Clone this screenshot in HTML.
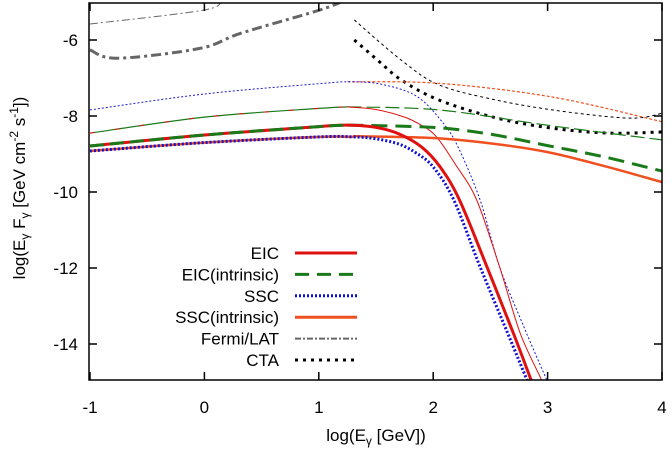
<!DOCTYPE html>
<html><head><meta charset="utf-8"><style>
body{margin:0;background:#fff}
svg{display:block;font-family:"Liberation Sans",sans-serif}
</style></head><body>
<svg id="chart" width="672" height="450" viewBox="0 0 672 450">
<g id="marks"></g>
<rect x="89" y="3" width="573" height="377" fill="none" stroke="#000" stroke-width="1.5"/>
<g id="axes"></g>
<text x="376" y="441" text-anchor="middle" font-size="17">log(E<tspan font-size="12" dy="4">γ</tspan><tspan dy="-4"> [GeV])</tspan></text>
<text transform="translate(25,188) rotate(-90)" text-anchor="middle" font-size="17">log(E<tspan font-size="12" dy="4">γ</tspan><tspan dy="-4"> F</tspan><tspan font-size="12" dy="4">γ</tspan><tspan dy="-4"> [GeV cm</tspan><tspan font-size="12" dy="-7">-2</tspan><tspan dy="7"> s</tspan><tspan font-size="12" dy="-7">-1</tspan><tspan dy="7">])</tspan></text>
<g id="legend"></g>
</svg>
<script>
const xTicks=[-1,0,1,2,3,4];
const yTicks=[-6,-8,-10,-12,-14];
const eicX=[-1,0,1,1.25,1.5,1.7,1.9,2.06,2.23,2.47,2.7,2.85,2.9];
const eicY=[-8.79,-8.5,-8.28,-8.24,-8.3,-8.47,-8.82,-9.34,-10.21,-11.97,-13.71,-14.9,-15.3];
const eicIntX=[1.25,2,2.5,3,3.5,4];
const eicIntY=[-8.24,-8.3,-8.48,-8.78,-9.08,-9.45];
const sscX=[-1,0,1,1.3,1.5,1.7,1.85,2.0,2.18,2.41,2.65,2.82,2.87];
const sscY=[-8.92,-8.7,-8.55,-8.55,-8.6,-8.74,-8.97,-9.34,-10.21,-11.97,-13.71,-14.95,-15.35];
const sscIntX=[1.3,2,2.5,3,3.5,4];
const sscIntY=[-8.53,-8.58,-8.72,-8.95,-9.32,-9.74];
const eicThinX=[-1,0,1,1.25];
const eicThinY=[-8.45,-8.03,-7.8,-7.76];
const eicThinDropX=[1.25,1.5,1.75,1.9,2.03,2.2,2.38,2.58,2.76,2.94,3.0];
const eicThinDropY=[-7.76,-7.83,-8.03,-8.25,-8.55,-9.3,-10.21,-11.97,-13.71,-14.9,-15.3];
const eicThinIntX=[1.25,2.05,3.04,4];
const eicThinIntY=[-7.76,-7.84,-8.26,-8.63];
const sscThinX=[-1,0,1,1.25,1.5,1.75,1.9,2.05,2.2,2.41,2.58,2.8,3.0];
const sscThinY=[-7.84,-7.42,-7.15,-7.1,-7.14,-7.33,-7.58,-8.05,-8.71,-10.21,-11.97,-13.6,-15.0];
const sscThinIntX=[1.25,2.05,3.04,4];
const sscThinIntY=[-7.1,-7.14,-7.5,-8.15];
const fermiX=[-1,-0.76,-0.04,0.32,1.01,1.23];
const fermiY=[-6.26,-6.48,-6.22,-5.82,-5.21,-4.95];
const fermiThinX=[-1,0,0.14];
const fermiThinY=[-5.58,-5.21,-4.95];
const ctaX=[1.31,1.53,1.72,2.05,2.55,3.04,3.54,4];
const ctaY=[-6.0,-6.57,-7.05,-7.58,-8.05,-8.32,-8.45,-8.42];
const ctaThinX=[1.31,1.72,2.05,2.55,3.04,3.54,3.8,4];
const ctaThinY=[-5.47,-6.53,-7.18,-7.58,-7.84,-8.02,-8.05,-7.93];
const legendLabels=["EIC","EIC(intrinsic)","SSC","SSC(intrinsic)","Fermi/LAT","CTA"];

const NS="http://www.w3.org/2000/svg";
const X=v=>90+114.4*(v+1);
const Y=v=>40+(-6-v)*38;
function pathD(xs,ys){
  const p=xs.map((x,i)=>[X(x),Y(ys[i])]);
  let d="M"+p[0][0].toFixed(1)+","+p[0][1].toFixed(1);
  for(let i=0;i<p.length-1;i++){
    const p0=p[i-1]||p[i],p1=p[i],p2=p[i+1],p3=p[i+2]||p[i+1];
    const c1=[p1[0]+(p2[0]-p0[0])/6,p1[1]+(p2[1]-p0[1])/6];
    const c2=[p2[0]-(p3[0]-p1[0])/6,p2[1]-(p3[1]-p1[1])/6];
    d+="C"+c1[0].toFixed(1)+","+c1[1].toFixed(1)+" "+c2[0].toFixed(1)+","+c2[1].toFixed(1)+" "+p2[0].toFixed(1)+","+p2[1].toFixed(1);
  }
  return d;
}
const marks=document.getElementById("marks");
const clip=document.createElementNS(NS,"clipPath");clip.id="pc";
const cr=document.createElementNS(NS,"rect");
cr.setAttribute("x",89);cr.setAttribute("y",3);cr.setAttribute("width",573);cr.setAttribute("height",377);
clip.appendChild(cr);marks.appendChild(clip);
marks.setAttribute("clip-path","url(#pc)");
function line(xs,ys,color,w,dash,name){
  const el=document.createElementNS(NS,"path");
  el.setAttribute("d",pathD(xs,ys));
  el.setAttribute("fill","none");el.setAttribute("stroke",color);el.setAttribute("stroke-width",w);
  if(dash)el.setAttribute("stroke-dasharray",dash);
  
  
  marks.appendChild(el);
}
line(fermiThinX,fermiThinY,"#666",1,"8,3,2,3","fermi-lat-thin-line");
line(fermiX,fermiY,"#666",3,"10,4,3,4","fermi-lat-line");
line(ctaThinX,ctaThinY,"#000",1,"3,3","cta-thin-line");
line(ctaX,ctaY,"#000",3,"3,5","cta-line");
line(sscThinIntX,sscThinIntY,"#f05020",1.2,"3,2","ssc-intrinsic-thin-line");
line(sscThinX,sscThinY,"#1a1ad0",1,"2,2","ssc-thin-line");
line(eicThinIntX,eicThinIntY,"#1a7a1a",1.2,"14,5","eic-intrinsic-thin-line");
line(eicThinX,eicThinY,"#1a7a1a",1.2,null,"eic-thin-green-line");
line(eicThinX,eicThinY,"#e01010",1,"5,20","eic-thin-left-line");
line(eicThinDropX,eicThinDropY,"#e01010",1,null,"eic-thin-line");
line(sscIntX,sscIntY,"#f05020",2.5,null,"ssc-intrinsic-line");
line(sscX.slice(0,4),sscY.slice(0,4),"#f05020",2.5,null,"ssc-intrinsic-left-line");
line(sscX,sscY,"#1010d0",3,"2,2","ssc-line");
line(eicIntX,eicIntY,"#1a7a1a",3,"16,8","eic-intrinsic-line");
line(eicX,eicY,"#e01010",3,null,"eic-line");
line(eicX.slice(0,4),eicY.slice(0,4),"#1a7a1a",3,"14,6","eic-intrinsic-left-line");

const axes=document.getElementById("axes");
function mk(tag,attrs,parent){const e=document.createElementNS(NS,tag);for(const k in attrs)e.setAttribute(k,attrs[k]);parent.appendChild(e);return e;}
xTicks.forEach(v=>{
  const t=mk("path",{d:`M${X(v)},380v-8M${X(v)},3v8`,stroke:"#000","stroke-width":1.5},axes);
  
  
  const l=mk("text",{x:X(v),y:413,"text-anchor":"middle","font-size":17},axes);
  l.textContent=v;
  
  
});
yTicks.forEach(v=>{
  const t=mk("path",{d:`M89,${Y(v)}h8M662,${Y(v)}h-8`,stroke:"#000","stroke-width":1.5},axes);
  
  
  const l=mk("text",{x:78,y:Y(v)+6,"text-anchor":"end","font-size":17},axes);
  l.textContent=v;
  
  
});
const lg=document.getElementById("legend");
const lstyles=[["#e01010",3,null],["#1a7a1a",3,"14,8"],["#1010d0",3,"2,2"],["#f05020",3,null],["#666",2,"6,2,2,2"],["#000",3,"3,5"]];
legendLabels.forEach((s,i)=>{
  const y=253+i*21.4;
  const t=mk("text",{x:279,y:y+6,"text-anchor":"end","font-size":17},lg);
  t.textContent=s;
  
  
  const [c,w,d]=lstyles[i];
  const l=mk("path",{d:`M295,${y}H357`,stroke:c,"stroke-width":w,fill:"none"},lg);
  if(d)l.setAttribute("stroke-dasharray",d);
  
  
});
</script>
</body></html>
